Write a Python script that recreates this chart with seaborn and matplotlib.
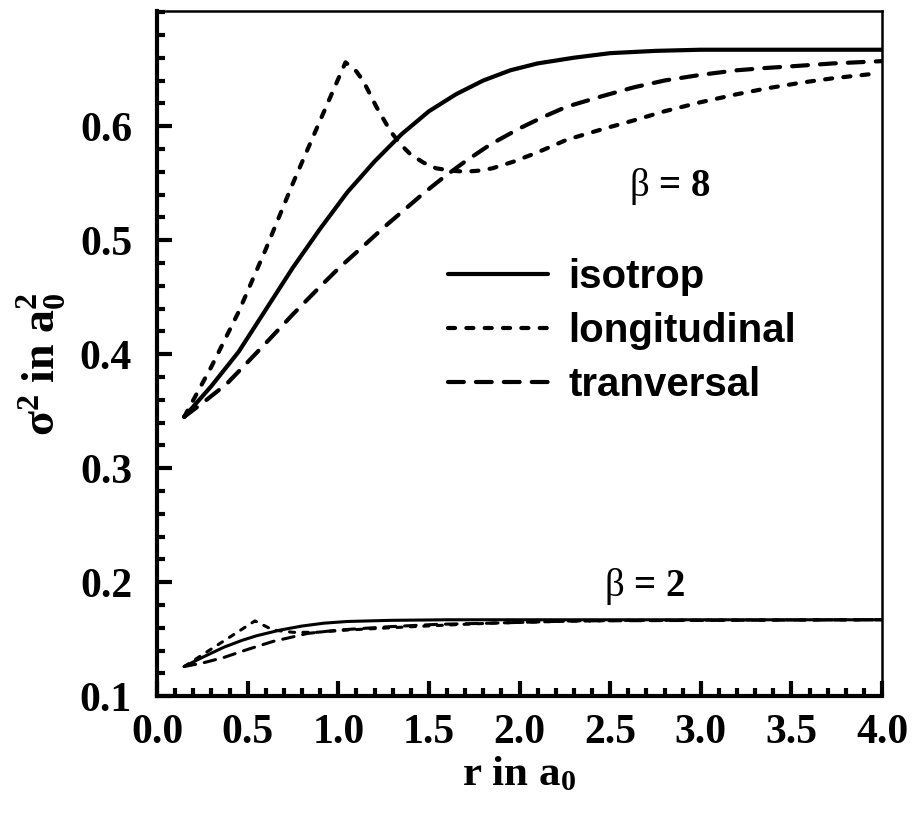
import matplotlib
matplotlib.use("Agg")
import matplotlib.pyplot as plt
from matplotlib.ticker import MultipleLocator, FixedLocator, FormatStrFormatter
import seaborn as sns

# beta = 8 curves
iso8_r = [0.15, 0.30, 0.45, 0.60, 0.75, 0.90, 1.05, 1.20, 1.35, 1.50, 1.65, 1.80, 1.95, 2.10,
          2.30, 2.50, 2.75, 3.00, 3.50, 4.00]
iso8_s = [0.345, 0.372, 0.402, 0.439, 0.476, 0.510, 0.542, 0.569, 0.593, 0.613, 0.628, 0.640,
          0.649, 0.655, 0.660, 0.664, 0.666, 0.667, 0.667, 0.667]

lon8_r = [0.15, 0.30, 0.45, 0.60, 0.75, 0.90, 1.04, 1.10, 1.14, 1.21, 1.29, 1.35, 1.40, 1.47,
          1.54, 1.62, 1.70, 1.78, 1.85, 1.97, 2.10, 2.26, 2.45, 2.63, 2.80, 3.00, 3.20, 3.36,
          3.55, 3.73, 3.96]
lon8_s = [0.345, 0.389, 0.437, 0.492, 0.550, 0.605, 0.656, 0.648, 0.639, 0.617, 0.595, 0.583,
          0.575, 0.568, 0.563, 0.561, 0.560, 0.561, 0.563, 0.569, 0.577, 0.588, 0.597, 0.605,
          0.613, 0.621, 0.628, 0.633, 0.638, 0.642, 0.646]

tra8_r = [0.15, 0.25, 0.385, 0.50, 0.62, 0.75, 0.88, 1.00, 1.14, 1.25, 1.36, 1.47, 1.58, 1.70,
          1.84, 2.00, 2.13, 2.26, 2.45, 2.63, 2.80, 3.00, 3.20, 3.36, 3.55, 3.73, 4.00]
tra8_s = [0.345, 0.357, 0.374, 0.393, 0.413, 0.435, 0.456, 0.475, 0.495, 0.511, 0.526, 0.541,
          0.555, 0.569, 0.584, 0.598, 0.608, 0.617, 0.626, 0.634, 0.640, 0.645, 0.649, 0.651,
          0.653, 0.655, 0.657]

# beta = 2 curves
iso2_r = [0.15, 0.25, 0.37, 0.47, 0.55, 0.68, 0.80, 0.92, 1.05, 1.29, 1.60, 4.00]
iso2_s = [0.126, 0.134, 0.143, 0.149, 0.153, 0.158, 0.1615, 0.164, 0.1655, 0.1665, 0.167, 0.167]

lon2_r = [0.15, 0.54, 0.64, 0.75, 0.88, 1.05, 1.29, 1.55, 1.84, 2.20, 2.60, 4.00]
lon2_s = [0.126, 0.166, 0.158, 0.156, 0.156, 0.158, 0.160, 0.162, 0.164, 0.1655, 0.1665, 0.167]

tra2_r = [0.15, 0.25, 0.37, 0.50, 0.64, 0.75, 0.83, 1.00, 1.29, 1.55, 1.84, 2.30, 4.00]
tra2_s = [0.126, 0.129, 0.134, 0.141, 0.148, 0.152, 0.155, 0.158, 0.161, 0.163, 0.164, 0.166, 0.167]

labels = ["isotrop", "longitudinal", "tranversal"]
x_ticks = [0.0, 0.5, 1.0, 1.5, 2.0, 2.5, 3.0, 3.5, 4.0]
y_ticks = [0.1, 0.2, 0.3, 0.4, 0.5, 0.6]

sns.set_style("white")
plt.rcParams["font.family"] = ["Liberation Serif", "DejaVu Serif"]
plt.rcParams["text.color"] = "black"
plt.rcParams["axes.labelcolor"] = "black"
plt.rcParams["xtick.color"] = "black"
plt.rcParams["ytick.color"] = "black"
plt.rcParams["mathtext.fontset"] = "custom"
plt.rcParams["mathtext.rm"] = "Liberation Serif:bold"
plt.rcParams["mathtext.bf"] = "Liberation Serif:bold"
plt.rcParams["mathtext.it"] = "Liberation Serif:regular"

fig = plt.figure(figsize=(9.14, 8.19), dpi=100)
ax = fig.add_axes([0.1718, 0.150, 0.7932, 0.8366])

styles = {
    "isotrop": dict(linestyle="-"),
    "longitudinal": dict(linestyle=(0, (1.7, 2.7)), dash_capstyle="round"),
    "tranversal": dict(linestyle=(0, (3.8, 2.9)), dash_capstyle="round"),
}

series8 = [(iso8_r, iso8_s), (lon8_r, lon8_s), (tra8_r, tra8_s)]
series2 = [(iso2_r, iso2_s), (lon2_r, lon2_s), (tra2_r, tra2_s)]

handles = []
for name, (r, s) in zip(labels, series8):
    sns.lineplot(x=r, y=s, ax=ax, color="black", lw=3, errorbar=None, **styles[name])
    handles.append(ax.lines[-1])
for name, (r, s) in zip(labels, series2):
    sns.lineplot(x=r, y=s, ax=ax, color="black", lw=2.2, errorbar=None, **styles[name])

ax.set_xlim(0, 4)
ax.set_ylim(0.1, 0.701)
ax.xaxis.set_major_locator(FixedLocator(x_ticks))
ax.xaxis.set_minor_locator(MultipleLocator(0.1))
ax.yaxis.set_major_locator(FixedLocator(y_ticks))
ax.yaxis.set_minor_locator(MultipleLocator(0.02))
ax.xaxis.set_major_formatter(FormatStrFormatter("%.1f"))
ax.yaxis.set_major_formatter(FormatStrFormatter("%.1f"))

ax.tick_params(which="both", direction="in", top=False, right=False,
               left=True, bottom=True, color="black")
ax.tick_params(which="major", length=11, width=3, labelsize=30, pad=13)
ax.tick_params(axis="y", which="major", pad=18)
ax.tick_params(which="minor", length=6, width=3)
for lab in ax.get_xticklabels() + ax.get_yticklabels():
    lab.set_fontweight("bold")

for side in ["left", "bottom"]:
    ax.spines[side].set_linewidth(3)
for side in ["top", "right"]:
    ax.spines[side].set_linewidth(1.8)
for sp in ax.spines.values():
    sp.set_color("black")

ax.set_xlabel(r"r in $\mathrm{a}_0$", fontsize=31, fontweight="bold")
ax.set_ylabel(r"$\mathbf{\sigma}^2$ in $\mathrm{a}_0^2$", fontsize=33, fontweight="bold")
ax.xaxis.set_label_coords(0.5, -0.087)
ax.yaxis.set_label_coords(-0.123, 0.485)

ax.text(2.83, 0.547, r"$\beta$ = 8", fontsize=28, fontweight="bold",
        ha="center", va="center")
ax.text(2.69, 0.196, r"$\beta$ = 2", fontsize=28, fontweight="bold",
        ha="center", va="center")

leg = ax.legend(handles=handles, labels=labels, loc="upper left",
                bbox_to_anchor=(0.401, 0.64), frameon=False, borderpad=0,
                borderaxespad=0, handlelength=2.5, handletextpad=0.5,
                labelspacing=0.4,
                prop={"family": "Liberation Sans", "weight": "bold", "size": 29})

fig.savefig("out.png", dpi=100)
